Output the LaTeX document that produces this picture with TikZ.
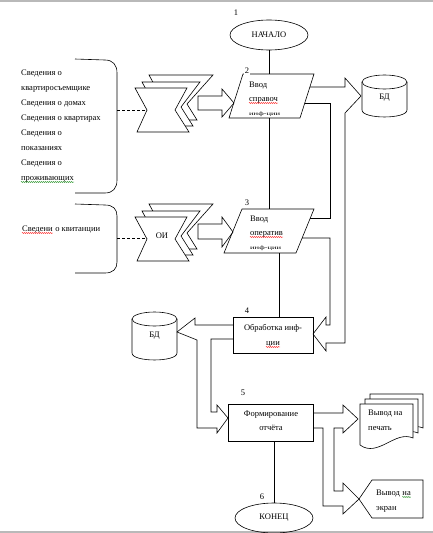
\documentclass[tikz,border=0pt]{standalone}
\usepackage{fontspec}
\setmainfont{Liberation Serif}
\usetikzlibrary{shapes.geometric,decorations.pathmorphing}
\newcommand\fs{\fontsize{8.5}{10}\selectfont}
\begin{document}
\begin{tikzpicture}[x=1pt,y=-1pt,
  ln/.style={line width=0.6pt,line join=miter},
  lbl/.style={font=\fs,inner sep=0pt,anchor=base west},
  ctr/.style={font=\fs,inner sep=0pt,anchor=base},
  num/.style={font=\fs,inner sep=1pt,fill=white},
  term/.style={ellipse,draw,line width=0.6pt,minimum width=78pt,minimum height=30pt,inner sep=0pt,font=\fs},
  box/.style={draw,line width=0.6pt,inner sep=0pt},
  redwave/.style={draw=red,line width=0.4pt,decorate,decoration={snake,amplitude=0.5pt,segment length=2pt}},
  greenwave/.style={draw=green!50!black,line width=0.4pt,decorate,decoration={snake,amplitude=0.5pt,segment length=2pt}},
  frameline/.style={draw=gray!55,line width=1.3pt},
  cards/.pic={
    \draw[ln,fill=white] (14,-13) -- (78,-13) -- (52,16) -- (62,32) -- (16,32) -- (26,9) -- cycle;
    \draw[ln,fill=white] (7,-6) -- (65,-6) -- (46,19) -- (58,38) -- (9,38) -- (19,16) -- cycle;
    \draw[ln,fill=white] (0,0) -- (52,0) -- (40,22) -- (54,44) -- (2,44) -- (12,22) -- cycle;
  }]
\useasboundingbox (0,0) rectangle (433,533);
% frame lines of the screenshot
\draw[frameline] (0,1) -- (433,1);
\draw[frameline] (0,532) -- (433,532);

% ---------- start ----------
\node[term] (start) at (269,35) {НАЧАЛО};
\node[font=\fs,inner sep=0pt] (n1) at (236,13) {1};

% ---------- block 2 (parallelogram) ----------
\coordinate (p2a) at (243,74);
\coordinate (p2b) at (314,74);
\coordinate (p2c) at (300,118);
\coordinate (p2d) at (229,118);
\draw[ln,fill=white] (p2a) -- (p2b) -- (p2c) -- (p2d) -- cycle;
\node[num] (n2) at (247,71) {2};
\draw[ln] (start.south) -- (start.south |- p2a);
\node[lbl] (p2t1) at (249,87) {Ввод};
\node[lbl] (p2t2) at (249,101) {справоч};
\node[lbl] (p2t3) at (249,115) {\scalebox{1}[0.6]{инф-ции}};
\draw[redwave] ([yshift=-2pt]p2t2.base west) -- ([yshift=-2pt]p2t2.base east);

% ---------- block 3 (parallelogram) ----------
\coordinate (p3a) at (242,209);
\coordinate (p3b) at (314,209);
\coordinate (p3c) at (296,253);
\coordinate (p3d) at (224,253);
\draw[ln,fill=white] (p3a) -- (p3b) -- (p3c) -- (p3d) -- cycle;
\node[num] (n3) at (247,203) {3};
\coordinate (p2bot) at (269,118);
\draw[ln] (p2bot) -- (p2bot |- p3a);
\node[lbl] (p3t1) at (250,221) {Ввод};
\node[lbl] (p3t2) at (250,235) {оператив};
\node[lbl] (p3t3) at (250,249) {\scalebox{1}[0.6]{инф-ции}};
\draw[redwave] ([yshift=-2pt]p3t2.base west) -- ([yshift=-2pt]p3t2.base east);

% ---------- block 4 ----------
\node[box,minimum width=80pt,minimum height=36pt] (b4) at (273,335) {};
\node[num] (n4) at (247,311) {4};
\coordinate (p3bot) at (279,253);
\draw[ln] (p3bot) -- (p3bot |- b4.north);
\node[ctr] (b4t1) at (273,330) {Обработка инф-};
\node[ctr] (b4t2) at (273,345) {ции};
\draw[redwave] ([yshift=-2pt]b4t2.base west) -- ([yshift=-2pt]b4t2.base east);

% ---------- block 5 ----------
\node[box,minimum width=85pt,minimum height=37pt] (b5) at (270.5,422.5) {};
\node[font=\fs,inner sep=0pt] (n5) at (243,393) {5};
\node[ctr] (b5t1) at (271,416) {Формирование};
\node[ctr] (b5t2) at (271,430) {отчёта};

% ---------- end ----------
\node[term] (end) at (274,518) {КОНЕЦ};
\node[font=\fs,inner sep=0pt] (n6) at (262,497) {6};
\draw[ln] (end.north |- b5.south) -- (end.north);

% ---------- databases ----------
\draw[ln,fill=white] (362,82) -- (362,110) .. controls (362,119.3) and (407,119.3) .. (407,110) -- (407,82);
\draw[ln,fill=white] (384.5,82) ellipse [x radius=22.5, y radius=7];
\node[font=\fs,inner sep=0pt] (db1) at (384.5,98) {БД};

\draw[ln,fill=white] (132,319) -- (132,353) .. controls (132,362.3) and (177,362.3) .. (177,353) -- (177,319);
\draw[ln,fill=white] (154.5,319) ellipse [x radius=22.5, y radius=7];
\node[font=\fs,inner sep=0pt] (db2) at (154.5,336) {БД};

% ---------- hollow arrows ----------
% P2 -> DB and channel down to block 4
\draw[ln] (310,87) -- (345,87) -- (345,78) -- (361,96) -- (345,113) -- (345,343) -- (326,343) -- (326,351) -- (313,334) -- (326,317) -- (326,325) -- (330,325) -- (330,238) -- (302,238);
\draw[ln] (305,103) -- (330,103) -- (330,218) -- (310,218);
% block 4 -> left DB and to block 5
\draw[ln] (233,325) -- (195,325) -- (195,318) -- (177,332) -- (197,340) -- (197,428) -- (217,428) -- (217,433) -- (228,418) -- (217,405) -- (217,412) -- (211,412) -- (211,339) -- (233,339);
% block 5 -> print and screen
\draw[ln] (313,413) -- (343,413) -- (343,405) -- (358,419) -- (343,433) -- (343,428) -- (334,428) -- (334,491) -- (343,491) -- (343,483) -- (359,499) -- (343,514) -- (343,506) -- (323,506) -- (323,428) -- (313,428);

% ---------- output: print ----------
\foreach \o in {10,5,0}{
  \draw[ln,fill=white] (360+\o,404-\o) -- (413+\o,404-\o) -- (413+\o,438-\o)
     .. controls (395+\o,430-\o) and (378+\o,458-\o) .. (360+\o,445-\o) -- cycle;
}
\node[lbl] (pr1) at (368,415) {Вывод на};
\node[lbl] (pr2) at (368,430) {печать};

% ---------- output: screen ----------
\draw[ln,fill=white] (359,499) -- (372,480) -- (423,480) -- (423,518) -- (372,518) -- cycle;
\node[lbl] (sc1) at (376,495) {Вывод};
\node[lbl,anchor=base west] (sc2) at ([xshift=2.2pt]sc1.base east) {на};
\draw[greenwave] ([yshift=-2pt]sc2.base west) -- ([yshift=-2pt]sc2.base east);
\node[lbl] (sc3) at (376,510) {экран};

% ---------- input group 1 ----------
\draw[ln] (75,59) -- (105,60) .. controls (113,60) and (117,65) .. (117,73) -- (117,180) .. controls (117,188) and (113,193) .. (105,193) -- (75,193);
\node[lbl] (l1) at (21,75) {Сведения о};
\node[lbl] (l2) at (21,90) {квартиросъемщике};
\node[lbl] (l3) at (21,105) {Сведения о домах};
\node[lbl] (l4) at (21,120) {Сведения о квартирах};
\node[lbl] (l5) at (21,135) {Сведения о};
\node[lbl] (l6) at (21,150) {показаниях};
\node[lbl] (l7) at (21,165) {Сведения о};
\node[lbl] (l8) at (21,180) {проживающих};
\draw[greenwave] ([yshift=-2pt]l8.base west) -- ([yshift=-2pt]l8.base east);
\pic at (135,88) {cards};
\draw[ln,dash pattern=on 3pt off 2pt] (117,110) -- (147,110);
\draw[ln] (198,96) -- (222,96) -- (222,89) -- (234,103) -- (222,117) -- (222,110) -- (198,110) -- cycle;

% ---------- input group 2 ----------
\draw[ln] (75,204) -- (105,205) .. controls (113,205) and (117,209) .. (117,216) -- (117,262) .. controls (117,269) and (113,273) .. (105,273) -- (75,273);
\node[lbl] (k1) at (22,231) {Сведени};
\node[lbl,anchor=base west] (k2) at ([xshift=2.2pt]k1.base east) {о квитанции};
\draw[redwave] ([yshift=-2pt]k1.base west) -- ([yshift=-2pt]k1.base east);
\pic at (135,217) {cards};
\node[font=\fs,inner sep=0pt] (oi) at (162,236) {ОИ};
\draw[ln,dash pattern=on 3pt off 2pt] (117,238) -- (147,238);
\draw[ln] (198,224) -- (222,224) -- (222,217) -- (233,232) -- (222,247) -- (222,239) -- (198,239) -- cycle;
\end{tikzpicture}
\end{document}
